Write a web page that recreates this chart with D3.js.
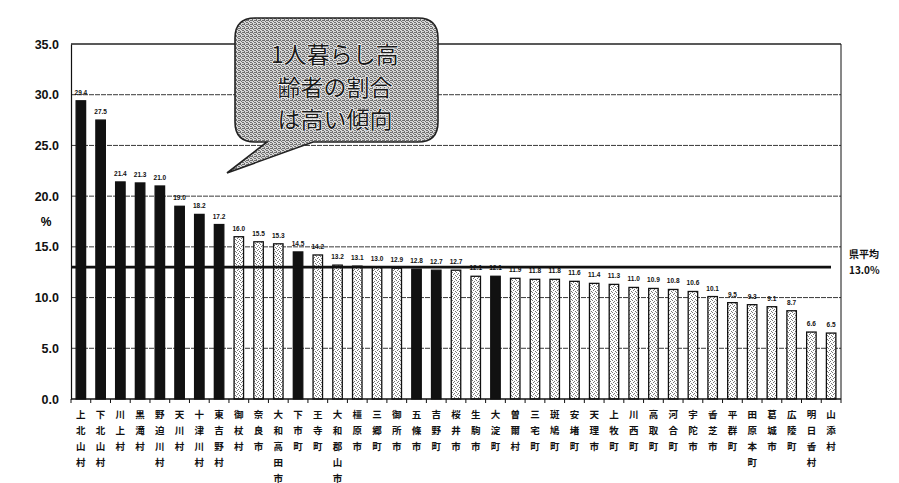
<!DOCTYPE html>
<html><head><meta charset="utf-8">
<script src="https://cdn.jsdelivr.net/npm/d3@7"></script>
<style>body{margin:0;background:#fff}svg{display:block}</style>
</head><body>
<svg id="c" width="899" height="483"></svg>
<script>
const categories = ["上北山村","下北山村","川上村","黒滝村","野迫川村","天川村","十津川村","東吉野村","御杖村","奈良市","大和高田市","下市町","王寺町","大和郡山市","橿原市","三郷町","御所市","五條市","吉野町","桜井市","生駒市","大淀町","曽爾村","三宅町","斑鳩町","安堵町","天理市","上牧町","川西町","高取町","河合町","宇陀市","香芝市","平群町","田原本町","葛城市","広陵町","明日香村","山添村"];
const values = [29.4,27.5,21.4,21.3,21.0,19.0,18.2,17.2,16.0,15.5,15.3,14.5,14.2,13.2,13.1,13.0,12.9,12.8,12.7,12.7,12.1,12.1,11.9,11.8,11.8,11.6,11.4,11.3,11.0,10.9,10.8,10.6,10.1,9.5,9.3,9.1,8.7,6.6,6.5];
const highlighted = ["上北山村","下北山村","川上村","黒滝村","野迫川村","天川村","十津川村","東吉野村","下市町","五條市","吉野町","大淀町"];
const yTicks = [0,5,10,15,20,25,30,35];
const prefAverage = 13.0;
const avgLabel = ["県平均","13.0%"];
const bubbleLines = ["1人暮らし高","齢者の割合","は高い傾向"];

const svg = d3.select("#c");
const defs = svg.append("defs");
const p1 = defs.append("pattern").attr("id","stip").attr("width",4).attr("height",4).attr("patternUnits","userSpaceOnUse");
p1.append("rect").attr("width",4).attr("height",4).attr("fill","#fff");
[[0,0],[2,1],[1,2],[3,3]].forEach(([a,b])=>p1.append("rect").attr("x",a).attr("y",b).attr("width",1).attr("height",1).attr("fill","#777"));
const p2 = defs.append("pattern").attr("id","bub").attr("width",4).attr("height",4).attr("patternUnits","userSpaceOnUse");
p2.append("rect").attr("width",4).attr("height",4).attr("fill","#d8d8d8");
[[0,0],[2,0],[1,1],[3,2],[0,3],[2,2],[3,0]].forEach(([a,b])=>p2.append("rect").attr("x",a).attr("y",b).attr("width",1).attr("height",1).attr("fill","#707070"));

const L=71, R=841, T=44, B=399;
const x = d3.scaleBand().domain(categories).range([L,R]).paddingInner(0.52).paddingOuter(0.26);
const y = d3.scaleLinear().domain([0,35]).range([B,T]);

svg.append("g").selectAll("line").data(yTicks.filter(d=>d>0)).join("line")
  .attr("x1",L).attr("x2",R).attr("y1",d=>y(d)).attr("y2",d=>y(d))
  .attr("stroke","#222").attr("stroke-width",d=>d===35?1.3:0.9)
  .attr("stroke-dasharray",d=>d===35?null:"5,1");

const yAxis = d3.axisLeft(y).tickValues(yTicks).tickFormat(d3.format(".1f")).tickSize(0).tickPadding(12);
const gy = svg.append("g").attr("transform",`translate(${L},0)`).call(yAxis);
gy.select(".domain").attr("stroke","#111").attr("stroke-width",1.2);
gy.selectAll("text").attr("font-family","Liberation Sans Narrow, Liberation Sans, Arial").attr("font-weight","bold").attr("font-size",12.5).attr("fill","#111");
svg.append("line").attr("x1",R).attr("x2",R).attr("y1",T).attr("y2",B).attr("stroke","#111").attr("stroke-width",1);

svg.append("text").attr("x",46).attr("y",226).attr("text-anchor","middle").attr("font-family","Liberation Sans").attr("font-weight","bold").attr("font-size",12).text("%");

svg.append("g").selectAll("rect").data(categories).join("rect")
  .attr("x",d=>x(d)).attr("width",x.bandwidth())
  .attr("y",(d,i)=>y(values[i])).attr("height",(d,i)=>B-y(values[i]))
  .attr("fill",d=>highlighted.includes(d)?"#111":"url(#stip)")
  .attr("stroke","#111").attr("stroke-width",1.3);

svg.append("line").attr("x1",L).attr("x2",R-10).attr("y1",y(prefAverage)).attr("y2",y(prefAverage)).attr("stroke","#111").attr("stroke-width",2.6);
svg.append("g").selectAll("text").data(avgLabel).join("text")
  .attr("x",849).attr("y",(d,i)=>258+i*16).attr("font-family","Noto Sans CJK JP").attr("font-weight","bold").attr("font-size",10).attr("fill","#111").text(d=>d);

svg.append("g").selectAll("text").data(categories).join("text")
  .attr("x",d=>x(d)+x.bandwidth()/2).attr("y",(d,i)=>y(values[i])-6)
  .attr("text-anchor","middle").attr("font-family","Liberation Sans Narrow, Liberation Sans").attr("font-weight","bold").attr("font-size",6.5).attr("fill","#111")
  .text((d,i)=>values[i].toFixed(1));

const gx = svg.append("g").attr("transform",`translate(0,${B})`);
gx.append("line").attr("x1",L).attr("x2",R).attr("stroke","#111").attr("stroke-width",1.6);
gx.selectAll("line.t").data(d3.range(categories.length+1)).join("line").attr("class","t")
  .attr("x1",i=>L+i*x.step()).attr("x2",i=>L+i*x.step()).attr("y1",0).attr("y2",4).attr("stroke","#111");
const lbl = gx.selectAll("text").data(categories).join("text")
  .attr("text-anchor","middle").attr("font-family","Noto Sans CJK JP").attr("font-weight","bold").attr("font-size",9.5).attr("fill","#111");
lbl.each(function(d){
  const t=d3.select(this);
  Array.from(d).forEach((ch,k)=>t.append("tspan").attr("x",x(d)+x.bandwidth()/2).attr("y",18.5+k*16).text(ch));
});

const bx=235, by=18, bw=203, bh=124, r=20;
const tail = `M${bx+r},${by} H${bx+bw-r} Q${bx+bw},${by} ${bx+bw},${by+r} V${by+bh-r} Q${bx+bw},${by+bh} ${bx+bw-r},${by+bh} H313 L227,173 L267,${by+bh} H${bx+r} Q${bx},${by+bh} ${bx},${by+bh-r} V${by+r} Q${bx},${by} ${bx+r},${by} Z`;
svg.append("path").attr("d",tail).attr("fill","url(#bub)").attr("stroke","#222").attr("stroke-width",1.6);
svg.append("g").selectAll("text").data(bubbleLines).join("text")
  .attr("x",335).attr("y",(d,i)=>63+i*32.5).attr("text-anchor","middle")
  .attr("font-family","Noto Sans CJK JP").attr("font-size",23).attr("fill","#1a1a1a")
  .attr("stroke","#fff").attr("stroke-width",1.2).attr("paint-order","stroke").text(d=>d);
</script>
</body></html>
